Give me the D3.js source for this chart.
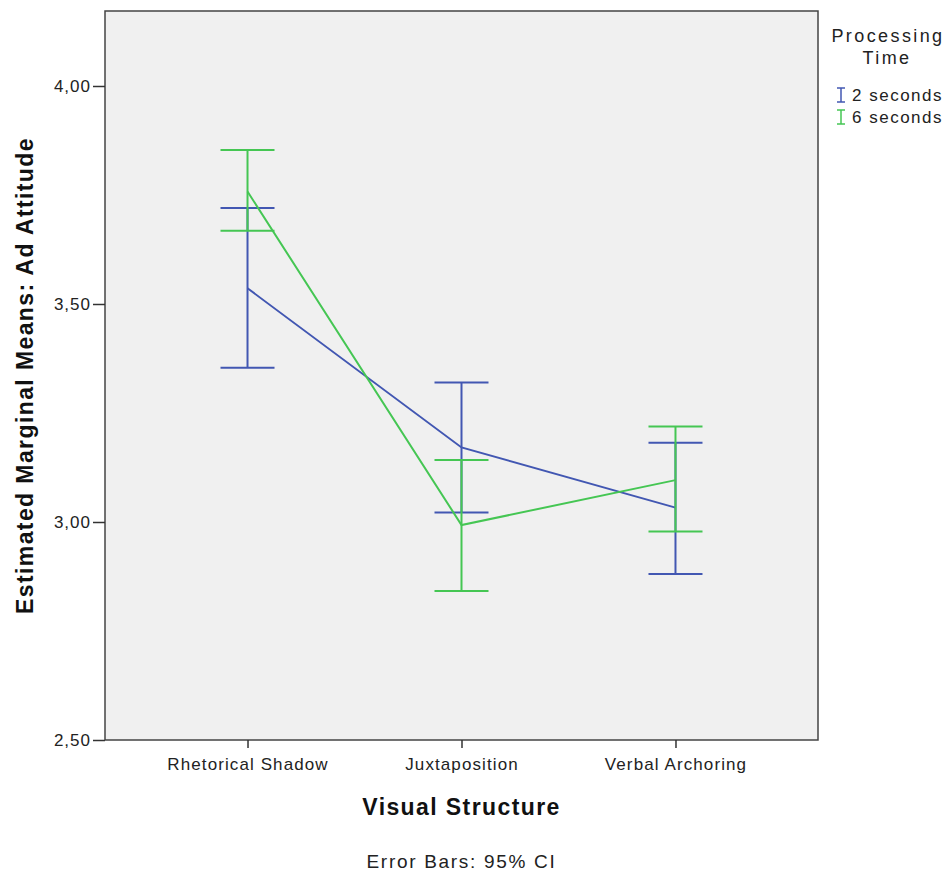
<!DOCTYPE html>
<html>
<head>
<meta charset="utf-8">
<script src="https://cdn.jsdelivr.net/npm/d3@7"></script>
<style>
  body { margin: 0; background: #fff; }
  text { font-family: "Liberation Sans", Arial, sans-serif; }
</style>
</head>
<body>
<div id="chart"></div>
<script>
// data
const categories = ["Rhetorical Shadow", "Juxtaposition", "Verbal Archoring"];
const seriesNames = ["2 seconds", "6 seconds"];
const means2 = [3.536, 3.171, 3.033];
const lower2 = [3.354, 3.022, 2.881];
const upper2 = [3.720, 3.320, 3.182];
const means6 = [3.758, 2.993, 3.096];
const lower6 = [3.668, 2.842, 2.978];
const upper6 = [3.853, 3.142, 3.219];
const yTicks = [2.5, 3.0, 3.5, 4.0];

const colors = ["#4257b2", "#45c653"];

const width = 947, height = 874,
      margin = ({ top: 11, right: 129, bottom: 134, left: 105 });

const series = [
  { name: seriesNames[0], color: colors[0],
    values: categories.map((c, i) => ({ cat: c, m: means2[i], lo: lower2[i], hi: upper2[i] })) },
  { name: seriesNames[1], color: colors[1],
    values: categories.map((c, i) => ({ cat: c, m: means6[i], lo: lower6[i], hi: upper6[i] })) }
];

const svg = d3.select("#chart")
  .append("svg")
  .attr("width", width)
  .attr("height", height);

let x = d3.scalePoint()
    .domain(categories)
    .range([margin.left, width - margin.right])
    .padding(0.666);

let y = d3.scaleLinear()
    .domain([2.5, 4.172])
    .range([height - margin.bottom, margin.top]);

// plot background
svg.append("rect")
  .attr("x", margin.left)
  .attr("y", margin.top)
  .attr("width", width - margin.right - margin.left)
  .attr("height", height - margin.bottom - margin.top)
  .attr("fill", "#f0f0f0")
  .attr("stroke", "#444")
  .attr("stroke-width", 1.5);

// y axis
const yAxis = svg.append("g")
  .attr("transform", `translate(${margin.left},0)`)
  .call(d3.axisLeft(y)
    .tickValues(yTicks)
    .tickSize(12)
    .tickSizeOuter(0)
    .tickFormat(d => d3.format(".2f")(d).replace(".", ",")));
yAxis.select(".domain").remove();
yAxis.selectAll(".tick line").attr("stroke", "#333").attr("stroke-width", 1.5);
yAxis.selectAll(".tick text")
  .attr("font-size", 17)
  .attr("letter-spacing", 1)
  .attr("fill", "#222")
  .attr("font-family", "Liberation Sans, Arial, sans-serif")
  .attr("x", -14);

// x axis
const xAxis = svg.append("g")
  .attr("transform", `translate(0,${height - margin.bottom})`)
  .call(d3.axisBottom(x).tickSize(8).tickSizeOuter(0));
xAxis.select(".domain").remove();
xAxis.selectAll(".tick line").attr("stroke", "#333").attr("stroke-width", 1.5);
xAxis.selectAll(".tick text")
  .attr("font-size", 17)
  .attr("letter-spacing", 1.1)
  .attr("fill", "#222")
  .attr("font-family", "Liberation Sans, Arial, sans-serif")
  .attr("y", 18);

// axis titles
svg.append("text")
  .attr("text-anchor", "middle")
  .attr("x", (margin.left + width - margin.right) / 2)
  .attr("y", 815)
  .attr("font-size", 23)
  .attr("letter-spacing", 1.4)
  .attr("font-weight", "bold")
  .attr("fill", "#111")
  .text("Visual Structure");

svg.append("text")
  .attr("text-anchor", "middle")
  .attr("transform", `translate(33,${(margin.top + height - margin.bottom) / 2}) rotate(-90)`)
  .attr("font-size", 23)
  .attr("letter-spacing", 1.4)
  .attr("font-weight", "bold")
  .attr("fill", "#111")
  .text("Estimated Marginal Means: Ad Attitude");

svg.append("text")
  .attr("text-anchor", "middle")
  .attr("x", (margin.left + width - margin.right) / 2)
  .attr("y", 868)
  .attr("font-size", 19)
  .attr("letter-spacing", 1.7)
  .attr("fill", "#222")
  .text("Error Bars: 95% CI");

// error bars and lines
const capW = 27;
let line = d3.line()
    .x(d => x(d.cat))
    .y(d => y(d.m));

series.forEach(s => {
  const g = svg.append("g").attr("stroke", s.color).attr("stroke-width", 2).attr("fill", "none");
  g.selectAll(".bar").data(s.values).join("line")
    .attr("x1", d => x(d.cat)).attr("x2", d => x(d.cat))
    .attr("y1", d => y(d.lo)).attr("y2", d => y(d.hi));
  g.selectAll(".capHi").data(s.values).join("line")
    .attr("x1", d => x(d.cat) - capW).attr("x2", d => x(d.cat) + capW)
    .attr("y1", d => y(d.hi)).attr("y2", d => y(d.hi));
  g.selectAll(".capLo").data(s.values).join("line")
    .attr("x1", d => x(d.cat) - capW).attr("x2", d => x(d.cat) + capW)
    .attr("y1", d => y(d.lo)).attr("y2", d => y(d.lo));
  g.append("path")
    .datum(s.values)
    .attr("d", line);
});

// legend
const lg = svg.append("g");
lg.append("text")
  .attr("text-anchor", "middle")
  .attr("x", 888).attr("y", 42)
  .attr("font-size", 18).attr("letter-spacing", 2.4).attr("fill", "#222")
  .text("Processing");
lg.append("text")
  .attr("text-anchor", "middle")
  .attr("x", 887).attr("y", 64)
  .attr("font-size", 18).attr("letter-spacing", 2.4).attr("fill", "#222")
  .text("Time");

series.forEach((s, i) => {
  const yy = 95 + i * 22;
  const ic = lg.append("g").attr("stroke", s.color).attr("stroke-width", 1.5);
  ic.append("line").attr("x1", 841).attr("x2", 841).attr("y1", yy - 7).attr("y2", yy + 7);
  ic.append("line").attr("x1", 837).attr("x2", 845).attr("y1", yy - 7).attr("y2", yy - 7);
  ic.append("line").attr("x1", 837).attr("x2", 845).attr("y1", yy + 7).attr("y2", yy + 7);
  lg.append("text")
    .attr("x", 852).attr("y", yy + 6)
    .attr("font-size", 17).attr("letter-spacing", 1.5).attr("fill", "#222")
    .text(s.name);
});
</script>
</body>
</html>
